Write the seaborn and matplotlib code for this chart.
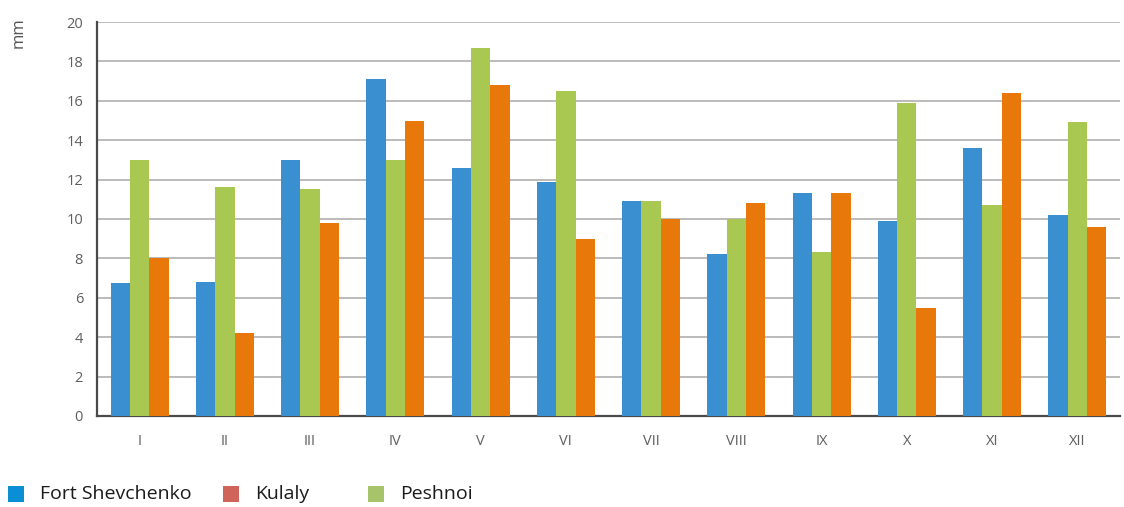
import matplotlib
matplotlib.use("Agg")
import matplotlib.pyplot as plt
from matplotlib.patches import Rectangle
from matplotlib.ticker import FixedLocator
import seaborn as sns
import pandas as pd
import numpy as np

# Monthly precipitation, mm
months = ["I", "II", "III", "IV", "V", "VI", "VII", "VIII", "IX", "X", "XI", "XII"]
fort_shevchenko = [6.75, 6.8, 13.0, 17.1, 12.6, 11.9, 10.9, 8.2, 11.3, 9.9, 13.6, 10.2]
peshnoi = [13.0, 11.6, 11.5, 13.0, 18.7, 16.5, 10.9, 10.0, 8.3, 15.9, 10.7, 14.9]
kulaly = [8.0, 4.2, 9.8, 15.0, 16.8, 9.0, 10.0, 10.8, 11.3, 5.5, 16.4, 9.6]

stations = ["Fort Shevchenko", "Peshnoi", "Kulaly"]
bar_colors = ["#3a8fd0", "#a9c852", "#e8780a"]
legend_labels = ["Fort Shevchenko", "Kulaly", "Peshnoi"]
legend_colors = ["#0a8fd6", "#d0635a", "#a8c46a"]
y_ticks = list(range(0, 21, 2))

df = pd.DataFrame({
    "month": months * 3,
    "station": [stations[0]] * 12 + [stations[1]] * 12 + [stations[2]] * 12,
    "value": fort_shevchenko + peshnoi + kulaly,
})

sns.set_theme(style="white")
plt.rcParams["font.family"] = ["Open Sans", "DejaVu Sans"]

W, H = 1124, 507
fig = plt.figure(figsize=(W / 100, H / 100), dpi=100)
ax = fig.add_axes([0.0863, 0.1795, 0.9101, 0.7771])

sns.barplot(data=df, x="month", y="value", hue="station", order=months,
            hue_order=stations, palette=bar_colors, width=0.68,
            saturation=1, linewidth=0, ax=ax, legend=False, zorder=3)

ax.set_ylim(0, 20)
ax.set_xlim(-0.5, 11.5)
ax.set_yticks(y_ticks)
ax.set_yticklabels([str(t) for t in y_ticks], color="#5e5e5e", fontsize=10.5)
ax.yaxis.grid(True, color="#bdbaba", linewidth=1.4, zorder=0)
ax.set_axisbelow(True)

ax.set_xticks(range(12))
ax.set_xticklabels(months, color="#5e5e5e", fontsize=10.5)
ax.tick_params(axis="x", which="major", length=0, pad=13)
ax.xaxis.set_minor_locator(FixedLocator(np.arange(-0.5, 12, 1)))
ax.tick_params(axis="x", which="minor", length=4, width=1.2, color="#555555",
               direction="out")
ax.tick_params(axis="y", which="major", length=8, width=1.2, color="#555555",
               direction="inout", pad=6)

for side in ("top", "right"):
    ax.spines[side].set_visible(False)
for side in ("left", "bottom"):
    ax.spines[side].set_color("#4a4a4a")
    ax.spines[side].set_linewidth(1.6)

ax.set_xlabel("")
ax.set_ylabel("")
fig.text(11 / W, 1 - 17 / H, "mm", rotation=90, ha="left", va="top",
         fontsize=12, color="#555555")

# Legend row: colour square followed by the station name
legend_x = [8, 223, 368]
for x0, lab, col in zip(legend_x, legend_labels, legend_colors):
    fig.add_artist(Rectangle((x0 / W, 1 - 502 / H), 16 / W, 16 / H,
                             transform=fig.transFigure, facecolor=col,
                             edgecolor="none"))
    fig.text((x0 + 32) / W, 1 - 494 / H, lab, ha="left", va="center",
             fontsize=14, color="#1a1a1a")

fig.savefig("out.png", dpi=100)
